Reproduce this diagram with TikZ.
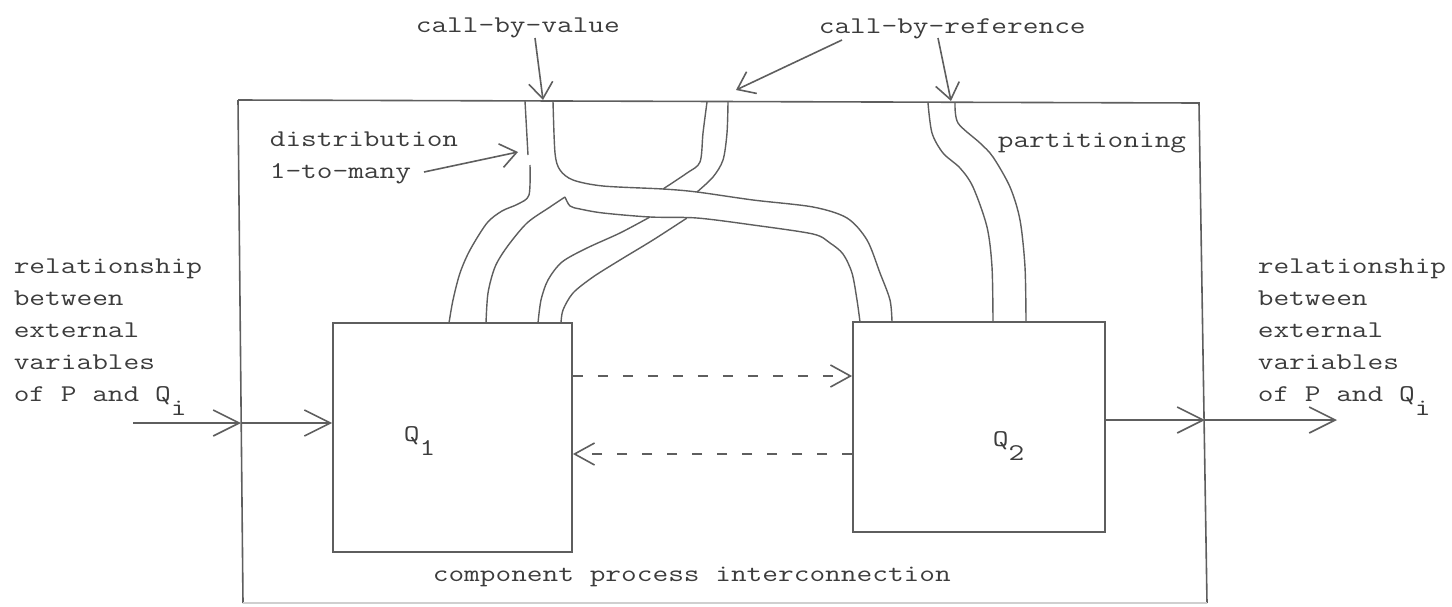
\documentclass[tikz,border=0pt]{standalone}
\usepackage{graphicx}
\usepackage{tikz}
\usetikzlibrary{arrows.meta}
\definecolor{pencil}{HTML}{5E5E5E}
\definecolor{ink}{HTML}{3C3C3C}
\newcommand\tw[1]{\scalebox{1.27}[1]{\fontsize{12}{16}\selectfont\ttfamily #1}}
\newcommand\lowr[1]{\raisebox{-7pt}{#1}}

\begin{document}
\begin{tikzpicture}[x=0.5pt,y=-0.5pt,  % 1 unit = 1 px of the scan, y down
  color=pencil, line width=0.8pt,
  txt/.style={anchor=base west,inner sep=0pt,text=ink},
  proc/.style={draw=pencil,line width=0.9pt,inner sep=0pt},
  ext/.style={-{Straight Barb[length=13pt,width=13pt]}},
  ptr/.style={-{Straight Barb[length=8pt,width=12pt]}},
  msg/.style={dash pattern=on 5pt off 7.5pt,-{Straight Barb[length=10pt,width=11pt]}},
  tube/.style={line width=0.7pt}]
  \useasboundingbox (0,0) rectangle (1452,606);

  % ---- frame of P
  \draw (238,100) -- (1199,103) -- (1207,603);
  \draw (238,100) -- (243,603);
  \draw[pencil!30] (243,603) -- (1207,603);
  \coordinate (fL) at (241,423);
  \coordinate (fR) at (1205,420);

  % ---- component processes
  \node[proc,minimum width=119.5pt,minimum height=114.5pt] (Q1) at (452.5,437.5) {};
  \node[proc,minimum width=126pt,minimum height=105pt] (Q2) at (979,427) {};
  \node[txt] (q1lab) at (403,441) {\tw{Q\lowr{1}}};
  \node[txt] (q2lab) at (992,446) {\tw{Q\lowr{2}}};

  % ---- labels
  \node[txt] (cbv) at (415,32) {\tw{call-by-value}};
  \node[txt] (cbr) at (818,33) {\tw{call-by-reference}};
  \node[txt] (dist) at (269,146) {\tw{distribution}};
  \node[txt] (many) at (269,178) {\tw{1-to-many}};
  \node[txt] (part) at (997,147) {\tw{partitioning}};
  \node[txt] (cpi) at (432,581) {\tw{component process interconnection}};
  \foreach \t [count=\k from 0] in {relationship,between,external,variables,{of P and Q\lowr{i}}}{
    \node[txt] (inl\k) at (13,273+32*\k) {\tw{\t}};
    \node[txt] (outl\k) at (1257,273+32*\k) {\tw{\t}};
  }

  % ---- pointers
  \coordinate (cbvA) at (535,38);  \coordinate (cbvB) at (543,100);
  \coordinate (cbrA1) at (842,40); \coordinate (cbrB1) at (736,90);
  \coordinate (cbrA2) at (938,38); \coordinate (cbrB2) at (951,101);
  \coordinate (distA) at (424,172); \coordinate (distB) at (518,152);
  \draw[ptr] (cbvA) -- (cbvB);
  \draw[ptr] (cbrA1) -- (cbrB1);
  \draw[ptr] (cbrA2) -- (cbrB2);
  \draw[ptr] (distA) -- (distB);

  % ---- external relationship
  \coordinate (inS) at (133,423);
  \coordinate (outE) at (1337,420);
  \draw[ext] (inS) -- (fL);
  \draw[ext] (fL) -- (Q1.west |- fL);
  \draw[ext] (Q2.east |- fR) -- (fR);
  \draw[ext] (fR) -- (outE);

  % ---- messages between Q1 and Q2
  \coordinate (mTop) at (0,376);
  \coordinate (mBot) at (0,454);
  \draw[msg] (Q1.east |- mTop) -- (Q2.west |- mTop);
  \draw[msg] (Q2.west |- mBot) -- (Q1.east |- mBot);

  % ---- call-by-value: stem, then 1-to-many split
  \draw[tube] (525,101) -- (528,155);
  \draw[tube] plot[smooth] coordinates {(530,165) (529,195) (518,204) (502,211) (487,223) (470,250) (460,273) (453,300) (449,323)};
  \draw[tube] plot[smooth] coordinates {(486,323) (488,293) (495,267) (507,247) (527,223) (550,207) (565,197)};
  \draw[tube] plot[smooth] coordinates {(565,197) (570,206) (580,209) (603,213) (650,217) (697,218) (753,225) (813,234) (830,243) (843,254) (852,273) (857,300) (860,322)};
  \draw[tube] plot[smooth] coordinates {(553,101) (555,153) (560,170) (573,180) (603,186) (663,189) (697,192) (753,200) (813,207) (847,218) (867,240) (880,273) (890,300) (892,322)};

  % ---- call-by-reference: runs under the band
  \draw[tube] plot[smooth] coordinates {(707,102) (703,133) (700,162) (687,173) (663,189)};
  \draw[tube] plot[smooth] coordinates {(728,102) (727,133) (723,160) (713,177) (697,192)};
  \draw[tube] plot[smooth] coordinates {(650,217) (620,233) (587,248) (562,262) (548,280) (541,300) (538,323)};
  \draw[tube] plot[smooth] coordinates {(687,218) (653,240) (620,260) (593,277) (573,293) (563,310) (561,323)};

  % ---- partitioning
  \draw[tube] plot[smooth] coordinates {(928,103) (932,133) (943,153) (960,168) (973,187) (987,227) (992,267) (993,322)};
  \draw[tube] plot[smooth] coordinates {(955,103) (958,123) (980,143) (993,157) (1010,187) (1020,220) (1025,267) (1026,322)};
\end{tikzpicture}
\end{document}
